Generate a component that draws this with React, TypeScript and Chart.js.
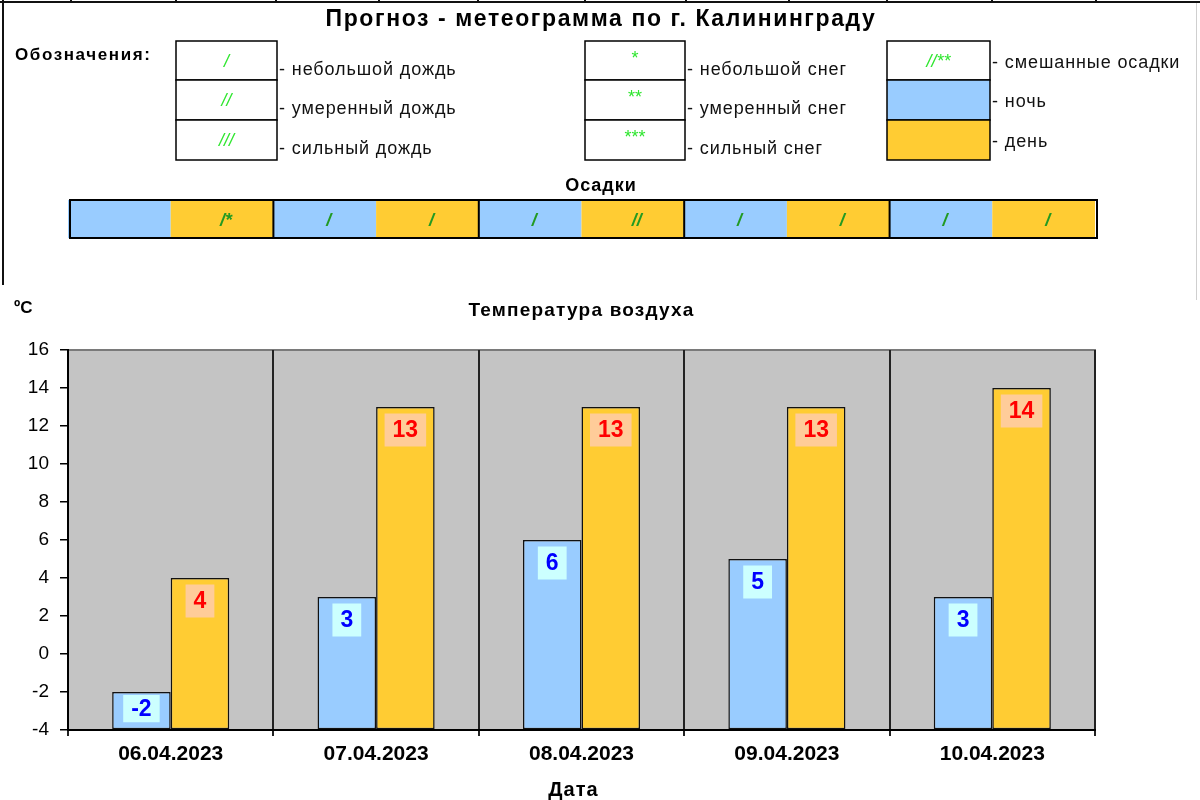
import React, { useEffect, useRef } from 'react';
import { Chart, registerables } from 'chart.js';

Chart.register(...registerables);

// ---- data ----
const dates = ['06.04.2023', '07.04.2023', '08.04.2023', '09.04.2023', '10.04.2023'];
const nightTemps = [-2, 3, 6, 5, 3];
const dayTemps = [4, 13, 13, 13, 14];
const nightPrecip = ['', '/', '/', '/', '/'];
const dayPrecip = ['/*', '/', '//', '/', '/'];

const rainSymbols = ['/', '//', '///'];
const rainLabels = ['- небольшой дождь', '- умеренный дождь', '- сильный дождь'];
const snowSymbols = ['*', '**', '***'];
const snowLabels = ['- небольшой снег', '- умеренный снег', '- сильный снег'];
const otherSymbols = ['//**', '', ''];
const otherLabels = ['- смешанные осадки', '- ночь', '- день'];

const yMin = -4;
const yMax = 16;
const yStep = 2;

const titleText = 'Прогноз - метеограмма по г. Калининграду';
const legendTitle = 'Обозначения:';
const precipTitle = 'Осадки';
const tempTitle = 'Температура воздуха';
const unitText = 'ºC';
const xTitle = 'Дата';

// ---- styles ----
const FONT = '"Liberation Sans", Arial, sans-serif';
const NIGHT = '#99CCFF';
const DAY = '#FFCC33';
const PLOT_BG = '#C4C4C4';

function txt(ctx: CanvasRenderingContext2D, s: string, x: number, y: number, font: string, align: CanvasTextAlign = 'left', color = '#000', spacing = '0px') {
  ctx.save();
  ctx.font = font;
  ctx.fillStyle = color;
  ctx.textAlign = align;
  ctx.textBaseline = 'middle';
  (ctx as any).letterSpacing = spacing;
  ctx.fillText(s, x, y);
  ctx.restore();
}

const headerPlugin = {
  id: 'header',
  beforeDraw(chart: any) {
    const ctx: CanvasRenderingContext2D = chart.ctx;
    const { chartArea } = chart;
    ctx.save();
    ctx.fillStyle = '#fff';
    ctx.fillRect(0, 0, chart.width, chart.height);

    // spreadsheet borders
    ctx.strokeStyle = '#111';
    ctx.lineWidth = 2;
    ctx.beginPath();
    ctx.moveTo(0, 2); ctx.lineTo(1200, 2);
    ctx.moveTo(3, 0); ctx.lineTo(3, 285);
    [71, 176, 276, 379, 478, 585, 686, 789, 887, 992, 1096].forEach((c) => {
      ctx.moveTo(c, 0); ctx.lineTo(c, 3);
    });
    ctx.stroke();
    ctx.strokeStyle = '#cfcfcf';
    ctx.lineWidth = 1;
    ctx.beginPath();
    ctx.moveTo(1196.5, 3); ctx.lineTo(1196.5, 300);
    ctx.stroke();

    // title
    txt(ctx, titleText, 601, 20, `bold 23px ${FONT}`, 'center', '#000', '1.6px');
    txt(ctx, legendTitle, 15, 55, `bold 17px ${FONT}`, 'left', '#000', '1.6px');

    // legend boxes
    const rowTops = [41, 80, 120];
    const rowH = [39, 40, 40];
    const cols = [
      { x: 176, w: 101, syms: rainSymbols, labels: rainLabels, ty: 29, fills: ['#fff', '#fff', '#fff'] },
      { x: 585, w: 100, syms: snowSymbols, labels: snowLabels, ty: 29, fills: ['#fff', '#fff', '#fff'] },
      { x: 887, w: 103, syms: otherSymbols, labels: otherLabels, ty: 22, fills: ['#fff', NIGHT, DAY] },
    ];
    cols.forEach((c) => {
      rowTops.forEach((t, i) => {
        ctx.fillStyle = c.fills[i];
        ctx.fillRect(c.x, t, c.w, rowH[i]);
        ctx.strokeStyle = '#000';
        ctx.lineWidth = 1.5;
        ctx.strokeRect(c.x, t, c.w, rowH[i]);
        if (c.syms[i]) {
          const isSnow = c.syms[i].indexOf('*') >= 0 && c.syms[i].indexOf('/') < 0;
          txt(ctx, c.syms[i], c.x + c.w / 2, t + (isSnow ? 18 : 21), `${isSnow ? '' : 'italic '}18px ${FONT}`, 'center', '#2EE62E');
        }
        txt(ctx, c.labels[i], c.x + c.w + 2, t + c.ty, `18px ${FONT}`, 'left', '#111', '0.9px');
      });
    });

    // precipitation strip aligned with x scale
    const xs = chart.scales.x;
    const n = dates.length;
    const cw = (chartArea.right - chartArea.left) / n;
    const sTop = 200;
    const sH = 38;
    txt(ctx, precipTitle, 601, 186, `bold 18px ${FONT}`, 'center', '#000', '1px');
    for (let i = 0; i < n; i++) {
      const cx = xs.getPixelForValue(i);
      const l = cx - cw / 2;
      ctx.fillStyle = NIGHT;
      ctx.fillRect(l, sTop, cw / 2, sH);
      ctx.fillStyle = DAY;
      ctx.fillRect(cx, sTop, cw / 2, sH);
      if (nightPrecip[i]) txt(ctx, nightPrecip[i], l + cw / 4 + 4, sTop + 21, `italic bold 18px ${FONT}`, 'center', '#229A22');
      if (dayPrecip[i]) txt(ctx, dayPrecip[i], cx + cw / 4 + 4, sTop + 21, `italic bold 18px ${FONT}`, 'center', '#229A22');
    }
    ctx.strokeStyle = '#000';
    ctx.lineWidth = 2;
    ctx.strokeRect(chartArea.left + 2, sTop, chartArea.right - chartArea.left, sH);
    ctx.beginPath();
    for (let i = 1; i < n; i++) {
      const b = xs.getPixelForValue(i) - cw / 2;
      ctx.moveTo(b, sTop); ctx.lineTo(b, sTop + sH);
    }
    ctx.stroke();

    // chart titles
    const mid = (chartArea.left + chartArea.right) / 2;
    txt(ctx, unitText, 14, 308, `bold 17px ${FONT}`, 'left', '#000');
    txt(ctx, tempTitle, mid, 311, `bold 19px ${FONT}`, 'center', '#000', '1.2px');
    txt(ctx, xTitle, mid - 8, 790, `bold 20px ${FONT}`, 'center', '#000', '1px');

    // plot background
    ctx.fillStyle = PLOT_BG;
    ctx.fillRect(chartArea.left, chartArea.top, chartArea.right - chartArea.left, chartArea.bottom - chartArea.top);
    ctx.strokeStyle = '#7a7a7a';
    ctx.lineWidth = 2;
    ctx.beginPath();
    ctx.moveTo(chartArea.left, chartArea.top); ctx.lineTo(chartArea.right, chartArea.top); ctx.lineTo(chartArea.right, chartArea.bottom);
    ctx.stroke();
    ctx.restore();
  },
};

const labelPlugin = {
  id: 'barLabels',
  afterDatasetsDraw(chart: any) {
    const ctx: CanvasRenderingContext2D = chart.ctx;
    const styles = [
      { bg: '#CCFFFF', fg: '#0000FF' },
      { bg: '#FFCC99', fg: '#FF0000' },
    ];
    chart.data.datasets.forEach((ds: any, d: number) => {
      const meta = chart.getDatasetMeta(d);
      meta.data.forEach((bar: any, i: number) => {
        const p = bar.getProps(['x', 'y', 'base'], true);
        const top = Math.min(p.y, p.base);
        const barH = Math.abs(p.base - p.y);
        const s = String(ds.data[i]);
        ctx.save();
        ctx.font = `bold 23px ${FONT}`;
        const tw = ctx.measureText(s).width;
        const bw = tw + 16;
        const bh = Math.min(33, barH - 10);
        const cy = top + Math.min(23, barH / 2 - 2);
        ctx.fillStyle = styles[d].bg;
        ctx.fillRect(p.x - bw / 2, cy - bh / 2, bw, bh);
        ctx.fillStyle = styles[d].fg;
        ctx.textAlign = 'center';
        ctx.textBaseline = 'middle';
        ctx.fillText(s, p.x, cy + 1);
        ctx.restore();
      });
    });
  },
};

export default function App() {
  const ref = useRef<HTMLCanvasElement | null>(null);
  useEffect(() => {
    if (!ref.current) return;
    const chart = new Chart(ref.current, {
      type: 'bar',
      data: {
        labels: dates,
        datasets: [
          {
            label: 'ночь',
            data: nightTemps,
            backgroundColor: NIGHT,
            borderColor: '#111',
            borderWidth: 1.5,
            borderSkipped: false,
            base: yMin,
            categoryPercentage: 0.57,
            barPercentage: 1,
          } as any,
          {
            label: 'день',
            data: dayTemps,
            backgroundColor: DAY,
            borderColor: '#111',
            borderWidth: 1.5,
            borderSkipped: false,
            base: yMin,
            categoryPercentage: 0.57,
            barPercentage: 1,
          } as any,
        ],
      },
      options: {
        responsive: false,
        animation: false,
        devicePixelRatio: 1,
        layout: { padding: { top: 350, right: 105, bottom: 0, left: 0 } },
        plugins: {
          legend: { display: false },
          tooltip: { enabled: false },
          title: { display: false },
        },
        scales: {
          x: {
            grid: { offset: true, color: '#222', lineWidth: 2, tickLength: 6, drawOnChartArea: true },
            border: { display: true, color: '#000', width: 2 },
            ticks: { color: '#000', padding: 6, font: { family: FONT, size: 21, weight: 'bold' } },
            afterFit: (s: any) => { s.height = 70; },
          },
          y: {
            min: yMin,
            max: yMax,
            grid: { drawOnChartArea: false, tickLength: 8, color: '#000', lineWidth: 1.5 },
            border: { display: true, color: '#000', width: 2 },
            ticks: { stepSize: yStep, color: '#000', padding: 11, font: { family: FONT, size: 19 } },
            afterFit: (s: any) => { s.width = 68; },
          },
        },
      } as any,
      plugins: [headerPlugin, labelPlugin],
    });
    return () => chart.destroy();
  }, []);
  return (
    <div style={{ position: 'absolute', left: 0, top: 0, width: 1200, height: 800, background: '#fff' }}>
      <canvas ref={ref} width={1200} height={800} style={{ display: 'block', width: 1200, height: 800 }} />
    </div>
  );
}
